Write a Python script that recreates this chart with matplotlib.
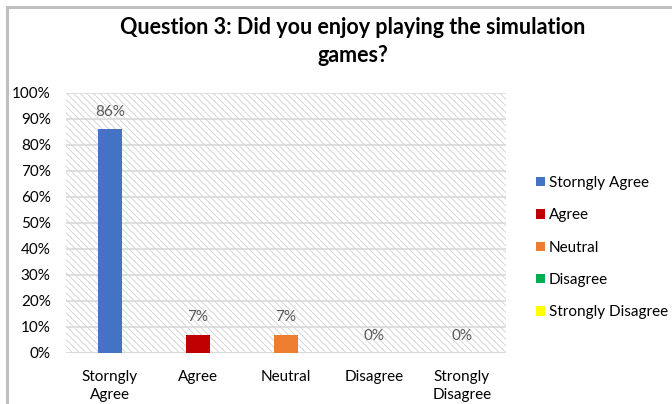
import matplotlib
matplotlib.use("Agg")
import matplotlib.pyplot as plt
from matplotlib.patches import Rectangle
from matplotlib.ticker import PercentFormatter

plt.rcParams['font.family'] = ['Lato', 'DejaVu Sans']
plt.rcParams['hatch.linewidth'] = 0.6
plt.rcParams['hatch.color'] = '#d0d0d0'

categories = ["Storngly\nAgree", "Agree", "Neutral", "Disagree", "Strongly\nDisagree"]
legend_labels = ["Storngly Agree", "Agree", "Neutral", "Disagree", "Strongly Disagree"]
values = [86, 7, 7, 0, 0]
colors = ["#4472C4", "#C00000", "#ED7D31", "#00B050", "#FFFF00"]
yticks = [0, 10, 20, 30, 40, 50, 60, 70, 80, 90, 100]

fig = plt.figure(figsize=(6.72, 4.04), dpi=100)
fig.patch.set_facecolor('white')
# outer chart border
fig.patches.append(Rectangle((7/672, -0.1), 1.2, 1 - 7/404 + 0.1, transform=fig.transFigure,
                             fill=False, edgecolor='#bfbfbf', linewidth=2.2, zorder=0))

ax = fig.add_axes([66/672, 1 - 353/404, 440/672, 260/404])
ax.set_xlim(-0.5, 4.5)
ax.set_ylim(0, 100)
ax.add_patch(Rectangle((0, 0), 1, 1, transform=ax.transAxes, facecolor='white',
                       edgecolor='#d0d0d0', hatch='\\\\\\\\\\', linewidth=0, zorder=0))
for s in ax.spines.values():
    s.set_visible(False)
ax.set_yticks(yticks)
ax.yaxis.set_major_formatter(PercentFormatter(decimals=0))
ax.grid(axis='y', color='#d9d9d9', linewidth=1.2, zorder=1)
ax.axhline(0, color='#d9d9d9', linewidth=1.4, zorder=2)
ax.tick_params(axis='both', length=0, labelsize=11, colors='#000000')
ax.tick_params(axis='y', pad=11)
ax.set_xticks(range(len(categories)))
ax.set_xticklabels(categories, va='top', linespacing=1.4)
ax.tick_params(axis='x', pad=12)

handles = []
for i, (v, c, lab) in enumerate(zip(values, colors, legend_labels)):
    b = ax.bar(i, v, width=0.27, color=c, label=lab, zorder=3)
    handles.append(b)
    ax.annotate(f"{v}%", (i, v), xytext=(0, 7.5), textcoords='offset points',
                ha='center', va='bottom', fontsize=11, color='#595959', zorder=4)

leg = fig.legend(handles=handles, labels=legend_labels, loc='upper left',
                 bbox_to_anchor=(530/672, 1 - 170/404), frameon=False, fontsize=11,
                 handlelength=0.55, handleheight=0.55, handletextpad=0.3,
                 labelspacing=1.2, borderaxespad=0)

fig.text(353/672, 1 - 28/404, "Question 3: Did you enjoy playing the simulation",
         ha='center', va='center', fontsize=15.5, fontweight='bold', color='#000000')
fig.text(353/672, 1 - 55/404, "games?",
         ha='center', va='center', fontsize=15.5, fontweight='bold', color='#000000')

fig.savefig("out.png", dpi=100)
